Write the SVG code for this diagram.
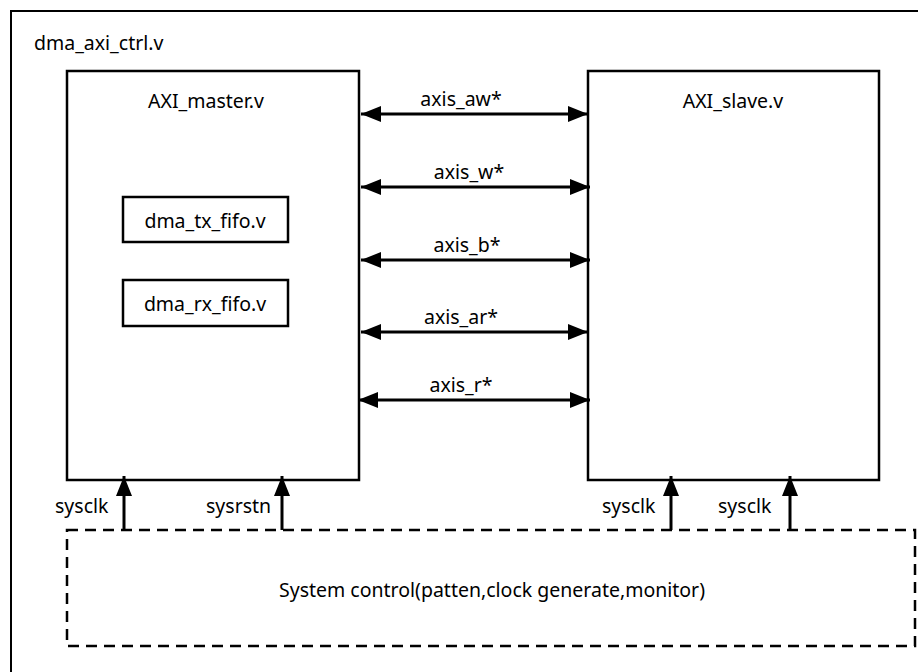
<svg xmlns="http://www.w3.org/2000/svg" width="918" height="672" viewBox="0 0 918 672">
<style>
text{font-family:"Noto Sans","Open Sans","DejaVu Sans",sans-serif;font-size:19.5px;fill:#000}
.box{fill:none;stroke:#000;stroke-width:2.5}
.c{text-anchor:middle}
.ln{stroke:#000;stroke-width:3;fill:none}
.dash{fill:none;stroke:#000;stroke-width:2.5;stroke-dasharray:11 7}
</style>
<defs>
<marker id="ah" viewBox="0 0 20 16" refX="20" refY="8" markerWidth="20" markerHeight="16" markerUnits="userSpaceOnUse" orient="auto-start-reverse">
<path d="M0,0 L20,8 L0,16 Z" fill="#000"/>
</marker>
</defs>
<rect width="918" height="672" fill="#fff"/>
<g id="dma_axi_ctrl">
<rect x="11" y="11" width="930" height="690" fill="none" stroke="#000" stroke-width="2"/>
<text x="34" y="50">dma_axi_ctrl.v</text>
</g>
<g id="axi_master">
<rect class="box" x="67" y="71" width="292" height="409"/>
<text class="c" x="206" y="108">AXI_master.v</text>
</g>
<g id="dma_tx_fifo">
<rect class="box" x="123" y="197" width="165" height="45"/>
<text class="c" x="205" y="228">dma_tx_fifo.v</text>
</g>
<g id="dma_rx_fifo">
<rect class="box" x="123" y="280" width="165" height="46"/>
<text class="c" x="205" y="311">dma_rx_fifo.v</text>
</g>
<g id="axi_slave">
<rect class="box" x="588" y="71" width="291" height="409"/>
<text class="c" x="733" y="108">AXI_slave.v</text>
</g>
<g id="system_control">
<rect class="dash" x="67" y="530" width="848" height="116"/>
<text class="c" x="492" y="597">System control(patten,clock generate,monitor)</text>
</g>
<g id="connectors">
<line class="ln" x1="361" y1="114" x2="588" y2="114" marker-start="url(#ah)" marker-end="url(#ah)"/>
<line class="ln" x1="361" y1="187" x2="590" y2="187" marker-start="url(#ah)" marker-end="url(#ah)"/>
<line class="ln" x1="361" y1="260" x2="590" y2="260" marker-start="url(#ah)" marker-end="url(#ah)"/>
<line class="ln" x1="361" y1="332" x2="588" y2="332" marker-start="url(#ah)" marker-end="url(#ah)"/>
<line class="ln" x1="358" y1="400" x2="590" y2="400" marker-start="url(#ah)" marker-end="url(#ah)"/>
<text class="c" x="461" y="106">axis_aw*</text>
<text class="c" x="469" y="179">axis_w*</text>
<text class="c" x="467" y="252">axis_b*</text>
<text class="c" x="461" y="324">axis_ar*</text>
<text class="c" x="461" y="392">axis_r*</text>
<line class="ln" x1="124" y1="530" x2="124" y2="476" marker-end="url(#ah)"/>
<line class="ln" x1="282" y1="530" x2="282" y2="476" marker-end="url(#ah)"/>
<line class="ln" x1="671" y1="530" x2="671" y2="476" marker-end="url(#ah)"/>
<line class="ln" x1="790" y1="530" x2="790" y2="476" marker-end="url(#ah)"/>
<text x="55" y="513">sysclk</text>
<text x="206" y="513">sysrstn</text>
<text x="602" y="513">sysclk</text>
<text x="718" y="513">sysclk</text>
</g>
</svg>
